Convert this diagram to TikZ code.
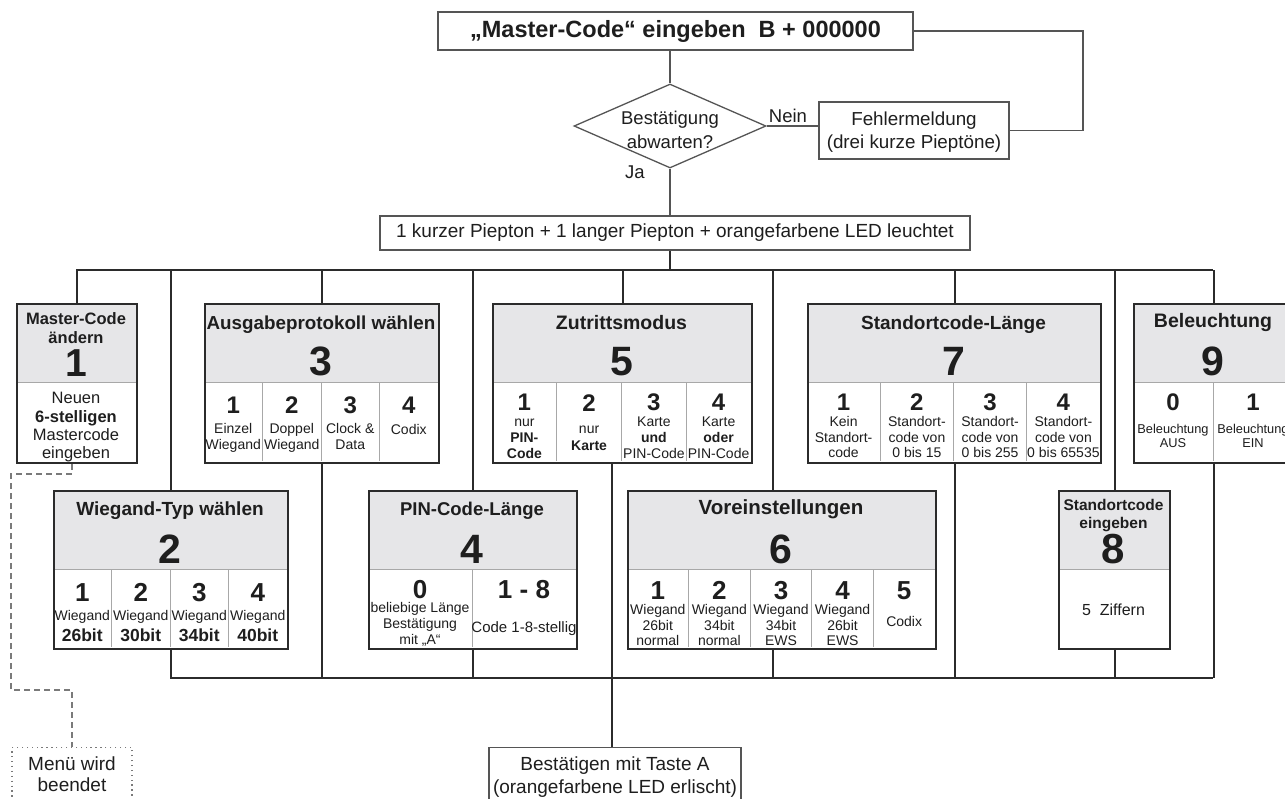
\documentclass[tikz,border=0pt]{standalone}
\usepackage{fontspec}
\setmainfont{Liberation Sans}
\usetikzlibrary{shapes.geometric}
\definecolor{frm}{HTML}{2B2B2B}
\definecolor{hdrc}{HTML}{E6E6E8}
\definecolor{divc}{HTML}{A8A8A8}
\definecolor{thc}{HTML}{555555}
\definecolor{txc}{HTML}{1E1E1E}
\definecolor{dsh}{HTML}{7A7A7A}
\newcommand\FS[1]{\fontsize{#1}{#1}\selectfont}
\newcommand\FB[1]{\fontsize{#1}{#1}\selectfont\bfseries}
\newcommand\Tn[5]{\node[tx,font=#4] (#1) at (#2,#3) {#5};}
\tikzset{
  mframe/.style={draw=frm, line width=2.2pt, inner sep=0, anchor=north west},
  hdr/.style={fill=hdrc, draw=none, inner sep=0, anchor=north west},
  div/.style={draw=divc, line width=0.9pt},
  conn/.style={draw=frm, line width=2pt},
  thinl/.style={draw=thc, line width=1.3pt},
  tbox/.style={draw=thc, line width=1.3pt, fill=white, inner sep=0, text=txc},
  tx/.style={inner sep=0, anchor=base, text=txc},
  dl/.style={draw=dsh, line width=1.3pt, dash pattern=on 6pt off 4pt},
}
% name, x, y, w, h, header height
\newcommand\MBox[6]{%
  \node[hdr, minimum width=#4, minimum height=#6] (#1h) at (#2,#3) {};
  \draw[div] (#2,#3+#6) -- (#2+#4,#3+#6);
  \node[mframe, minimum width=#4, minimum height=#5] (#1) at (#2,#3) {};
}
\begin{document}
\begin{tikzpicture}[x=1pt,y=-1pt]
\useasboundingbox (0,0) rectangle (1285,798);
\fill[white] (0,0) rectangle (1285,798);

% ---------- top part ----------
\node[tbox, minimum width=475, minimum height=38, font=\FB{23.5}] (top) at (675.5,31) {„Master-Code“ eingeben\ \ B + 000000};
\node[draw=thc, line width=1.3pt, fill=white, diamond, aspect=2.3, minimum width=192, minimum height=84, inner sep=0] (dia) at (670,126) {};
\Tn{dq1}{670}{124.5}{\FS{18.5}}{Bestätigung}
\Tn{dq2}{670}{148}{\FS{18.5}}{abwarten?}
\node[tbox, minimum width=190, minimum height=57] (fehl) at (914,130.5) {};
\Tn{fe1}{914}{125}{\FS{18.8}}{Fehlermeldung}
\Tn{fe2}{914}{148.5}{\FS{18.8}}{(drei kurze Pieptöne)}
\Tn{nein}{788}{122}{\FS{18.5}}{Nein}
\Tn{ja}{635}{178.5}{\FS{18.5}}{Ja}
\node[tbox, minimum width=590, minimum height=34, font=\FS{19}] (led) at (675,233) {1 kurzer Piepton + 1 langer Piepton + orangefarbene LED leuchtet};

\coordinate (loopx) at (1083,0);
\draw[thinl] (dia.north |- top.south) -- (dia.north);
\draw[thinl] (dia.east) -- (fehl.west |- dia.east);
\draw[thinl] (top.east) -- (top.east -| loopx) -- (loopx |- fehl.east) -- (fehl.east);
\draw[thinl] (dia.south) -- (dia.south |- led.north);

% ---------- buses ----------
\coordinate (busL) at (76,270);
\coordinate (busR) at (1213,270);
\coordinate (bbL) at (170,678);
\coordinate (bbR) at (1213,678);
\coordinate (t6) at (773,270);
\coordinate (t5) at (612,0);
\draw[conn] (busL) -- (busR);
\draw[conn] (bbL) -- (bbR);
\draw[conn] (dia.south |- led.south) -- (dia.south |- busL);

% ---------- cell dividers (row 1) ----------
\foreach \dx in {262.5,321,379.5,556.75,621.5,686.25,880.25,953.5,1026.75,1213}
  \draw[div] (\dx,382) -- (\dx,461);
% ---------- cell dividers (row 2) ----------
\foreach \dx in {111.5,170,228.5,472,688.6,750.2,811.8,873.4}
  \draw[div] (\dx,569) -- (\dx,647);

% ---------- boxes ----------
\MBox{b1}{16}{303}{120}{159}{79}
\MBox{b3}{204}{303}{234}{159}{79}
\MBox{b5}{492}{303}{259}{159}{79}
\MBox{b7}{807}{303}{293}{159}{79}
\MBox{b9}{1133}{303}{160}{159}{79}
\MBox{b2}{53}{490}{234}{158}{79}
\MBox{b4}{368}{490}{208}{158}{79}
\MBox{b6}{627}{490}{308}{158}{79}
\MBox{b8}{1058}{490}{111}{158}{79}

\node[tbox, minimum width=252, minimum height=70, anchor=north] (fin) at (615,747) {};
\node[draw=dsh, line width=1.3pt, dash pattern=on 1.3pt off 3.6pt, fill=white, minimum width=120, minimum height=70, anchor=north, inner sep=0] (menu) at (72,747) {};

% ---------- connectors from bus to boxes ----------
\draw[conn] (b1.north) -- (b1.north |- busL);
\draw[conn] (b2.north) -- (b2.north |- busL);
\draw[conn] (b3.north) -- (b3.north |- busL);
\draw[conn] (b4.north) -- (b4.north |- busL);
\draw[conn] (b5.north) -- (b5.north |- busL);
\draw[conn] (t6) -- (t6 |- b6.north);
\draw[conn] (b7.north) -- (b7.north |- busL);
\draw[conn] (b8.north) -- (b8.north |- busL);
\draw[conn] (b9.north) -- (b9.north |- busL);
% ---------- connectors from boxes to bottom bus ----------
\draw[conn] (b2.south) -- (b2.south |- bbL);
\draw[conn] (b3.south) -- (b3.south |- bbL);
\draw[conn] (b4.south) -- (b4.south |- bbL);
\draw[conn] (t6 |- b6.south) -- (t6 |- bbL);
\draw[conn] (b7.south) -- (b7.south |- bbL);
\draw[conn] (b8.south) -- (b8.south |- bbL);
\draw[conn] (b9.south) -- (b9.south |- bbR);
\draw[conn] (t5 |- b5.south) -- (t5 |- fin.north);
% ---------- dashed exit ----------
\coordinate (dA) at (11,474);
\coordinate (dB) at (11,690);
\draw[dl] (menu.north |- b1.south) -- (menu.north |- dA) -- (dA) -- (dB) -- (menu.north |- dB) -- (menu.north);

% ---------- texts box 1 ----------
\Tn{b1t1}{76}{324}{\FB{16.5}}{Master-Code}
\Tn{b1t2}{76}{343}{\FB{16.5}}{ändern}
\Tn{b1n}{76}{376}{\FB{39}}{1}
\Tn{b1a}{76}{403}{\FS{16.5}}{Neuen}
\Tn{b1b}{76}{422}{\FB{16.5}}{6-stelligen}
\Tn{b1c}{76}{440}{\FS{16.5}}{Mastercode}
\Tn{b1d}{76}{458}{\FS{16.5}}{eingeben}

% ---------- box 3 ----------
\Tn{b3t}{321}{329}{\FB{18.8}}{Ausgabeprotokoll wählen}
\Tn{b3n}{321}{375}{\FB{41}}{3}
\Tn{b3n1}{233.25}{413}{\FB{24}}{1}
\Tn{b3n2}{291.75}{413}{\FB{24}}{2}
\Tn{b3n3}{350.25}{413}{\FB{24}}{3}
\Tn{b3n4}{408.75}{413}{\FB{24}}{4}
\Tn{b3a1}{233.25}{433}{\FS{14}}{Einzel}
\Tn{b3b1}{233.25}{449}{\FS{14}}{Wiegand}
\Tn{b3a2}{291.75}{433}{\FS{14}}{Doppel}
\Tn{b3b2}{291.75}{449}{\FS{14}}{Wiegand}
\Tn{b3a3}{350.25}{433}{\FS{14}}{Clock \&}
\Tn{b3b3}{350.25}{449}{\FS{14}}{Data}
\Tn{b3a4}{408.75}{434}{\FS{14}}{Codix}

% ---------- box 5 ----------
\Tn{b5t}{621.5}{329}{\FB{19.5}}{Zutrittsmodus}
\Tn{b5n}{621.5}{375}{\FB{41}}{5}
\Tn{b5n1}{524.4}{410.5}{\FB{24}}{1}
\Tn{b5n2}{589.1}{411}{\FB{24}}{2}
\Tn{b5n3}{653.9}{410.5}{\FB{24}}{3}
\Tn{b5n4}{718.6}{410.5}{\FB{24}}{4}
\Tn{b5a1}{524.4}{426}{\FS{14}}{nur}
\Tn{b5b1}{524.4}{442}{\FB{14}}{PIN-}
\Tn{b5c1}{524.4}{458}{\FB{14}}{Code}
\Tn{b5a2}{589.1}{433}{\FS{14}}{nur}
\Tn{b5b2}{589.1}{450}{\FB{14}}{Karte}
\Tn{b5a3}{653.9}{426.5}{\FS{14}}{Karte}
\Tn{b5b3}{653.9}{442}{\FB{14}}{und}
\Tn{b5c3}{653.9}{458}{\FS{14}}{PIN-Code}
\Tn{b5a4}{718.6}{426.5}{\FS{14}}{Karte}
\Tn{b5b4}{718.6}{442}{\FB{14}}{oder}
\Tn{b5c4}{718.6}{458}{\FS{14}}{PIN-Code}

% ---------- box 7 ----------
\Tn{b7t}{953.5}{329}{\FB{19}}{Standortcode-Länge}
\Tn{b7n}{953.5}{375}{\FB{41}}{7}
\Tn{b7n1}{843.6}{410.5}{\FB{24}}{1}
\Tn{b7n2}{916.9}{410.5}{\FB{24}}{2}
\Tn{b7n3}{990.1}{410.5}{\FB{24}}{3}
\Tn{b7n4}{1063.4}{410.5}{\FB{24}}{4}
\Tn{b7a1}{843.6}{426.5}{\FS{14}}{Kein}
\Tn{b7b1}{843.6}{442}{\FS{14}}{Standort-}
\Tn{b7c1}{843.6}{457.5}{\FS{14}}{code}
\Tn{b7a2}{916.9}{426.5}{\FS{14}}{Standort-}
\Tn{b7b2}{916.9}{442}{\FS{14}}{code von}
\Tn{b7c2}{916.9}{457.5}{\FS{14}}{0 bis 15}
\Tn{b7a3}{990.1}{426.5}{\FS{14}}{Standort-}
\Tn{b7b3}{990.1}{442}{\FS{14}}{code von}
\Tn{b7c3}{990.1}{457.5}{\FS{14}}{0 bis 255}
\Tn{b7a4}{1063.4}{426.5}{\FS{14}}{Standort-}
\Tn{b7b4}{1063.4}{442}{\FS{14}}{code von}
\Tn{b7c4}{1063.4}{457.5}{\FS{14}}{0 bis 65535}

% ---------- box 9 ----------
\Tn{b9t}{1213}{327}{\FB{19.5}}{Beleuchtung}
\Tn{b9n}{1213}{375}{\FB{41}}{9}
\Tn{b9n1}{1173}{410}{\FB{24}}{0}
\Tn{b9n2}{1253}{410}{\FB{24}}{1}
\Tn{b9a1}{1173}{433}{\FS{12.8}}{Beleuchtung}
\Tn{b9b1}{1173}{447}{\FS{12.8}}{AUS}
\Tn{b9a2}{1253}{433}{\FS{12.8}}{Beleuchtung}
\Tn{b9b2}{1253}{447}{\FS{12.8}}{EIN}

% ---------- box 2 ----------
\Tn{b2t}{170}{515}{\FB{19}}{Wiegand-Typ wählen}
\Tn{b2n}{170}{563}{\FB{41}}{2}
\Tn{b2n1}{82.25}{601}{\FB{26}}{1}
\Tn{b2n2}{140.75}{601}{\FB{26}}{2}
\Tn{b2n3}{199.25}{601}{\FB{26}}{3}
\Tn{b2n4}{257.75}{601}{\FB{26}}{4}
\Tn{b2a1}{82.25}{620}{\FS{14}}{Wiegand}
\Tn{b2a2}{140.75}{620}{\FS{14}}{Wiegand}
\Tn{b2a3}{199.25}{620}{\FS{14}}{Wiegand}
\Tn{b2a4}{257.75}{620}{\FS{14}}{Wiegand}
\Tn{b2b1}{82.25}{641}{\FB{17.5}}{26bit}
\Tn{b2b2}{140.75}{641}{\FB{17.5}}{30bit}
\Tn{b2b3}{199.25}{641}{\FB{17.5}}{34bit}
\Tn{b2b4}{257.75}{641}{\FB{17.5}}{40bit}

% ---------- box 4 ----------
\Tn{b4t}{472}{515}{\FB{18.5}}{PIN-Code-Länge}
\Tn{b4n}{472}{563}{\FB{41}}{4}
\Tn{b4n1}{420}{598}{\FB{26}}{0}
\Tn{b4n2}{524}{598}{\FB{26}}{1 - 8}
\Tn{b4a1}{420}{612}{\FS{14}}{beliebige Länge}
\Tn{b4b1}{420}{628}{\FS{14}}{Bestätigung}
\Tn{b4c1}{420}{644}{\FS{14}}{mit „A“}
\Tn{b4a2}{524}{632}{\FS{15}}{Code 1-8-stellig}

% ---------- box 6 ----------
\Tn{b6t}{781}{514}{\FB{20.5}}{Voreinstellungen}
\Tn{b6n}{781}{563}{\FB{41}}{6}
\Tn{b6n1}{657.8}{599}{\FB{26}}{1}
\Tn{b6n2}{719.4}{599}{\FB{26}}{2}
\Tn{b6n3}{781}{599}{\FB{26}}{3}
\Tn{b6n4}{842.6}{599}{\FB{26}}{4}
\Tn{b6n5}{904.2}{599}{\FB{26}}{5}
\Tn{b6a1}{657.8}{614}{\FS{14}}{Wiegand}
\Tn{b6b1}{657.8}{630}{\FS{14}}{26bit}
\Tn{b6c1}{657.8}{645}{\FS{14}}{normal}
\Tn{b6a2}{719.4}{614}{\FS{14}}{Wiegand}
\Tn{b6b2}{719.4}{630}{\FS{14}}{34bit}
\Tn{b6c2}{719.4}{645}{\FS{14}}{normal}
\Tn{b6a3}{781}{614}{\FS{14}}{Wiegand}
\Tn{b6b3}{781}{630}{\FS{14}}{34bit}
\Tn{b6c3}{781}{645}{\FS{14}}{EWS}
\Tn{b6a4}{842.6}{614}{\FS{14}}{Wiegand}
\Tn{b6b4}{842.6}{630}{\FS{14}}{26bit}
\Tn{b6c4}{842.6}{645}{\FS{14}}{EWS}
\Tn{b6a5}{904.2}{626}{\FS{14}}{Codix}

% ---------- box 8 ----------
\Tn{b8t1}{1113.5}{510}{\FB{15.5}}{Standortcode}
\Tn{b8t2}{1113.5}{528}{\FB{15.5}}{eingeben}
\Tn{b8n}{1113.5}{563}{\FB{42}}{8}
\Tn{b8a}{1113.5}{615}{\FS{16}}{5~~Ziffern}

% ---------- bottom boxes ----------
\Tn{fin1}{615}{770.5}{\FS{19}}{Bestätigen mit Taste A}
\Tn{fin2}{615}{793}{\FS{19}}{(orangefarbene LED erlischt)}
\Tn{menu1}{72}{770}{\FS{19}}{Menü wird}
\Tn{menu2}{72}{791}{\FS{19}}{beendet}
\end{tikzpicture}
\end{document}
